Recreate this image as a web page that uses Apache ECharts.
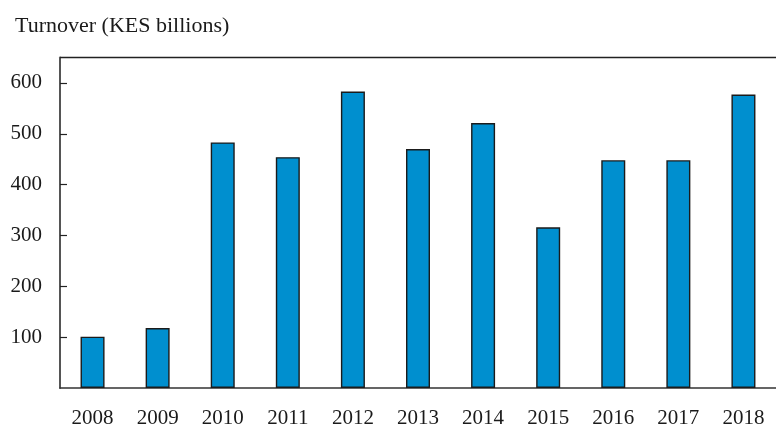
<!DOCTYPE html>
<html><head><meta charset="utf-8">
<script src="https://cdn.jsdelivr.net/npm/echarts@6/dist/echarts.min.js"></script>
<style>html,body{margin:0;padding:0;background:#fff}#c{width:776px;height:429px}</style>
</head><body><div id="c"></div>
<script>
const categories = ['2008','2009','2010','2011','2012','2013','2014','2015','2016','2017','2018'];
const turnover = [101, 118, 483, 454, 583, 470, 521, 316, 448, 448, 577];
const yTicks = [100, 200, 300, 400, 500, 600];
const title = 'Turnover (KES billions)';

const FONT = '"Liberation Serif", "DejaVu Serif", serif';
const chart = echarts.init(document.getElementById('c'), null, {renderer: 'canvas'});
chart.setOption({
  animation: false,
  backgroundColor: '#ffffff',
  title: {
    text: title, left: 10, top: 10,
    textStyle: {fontFamily: FONT, fontSize: 22, fontWeight: 'normal', color: '#1a1a1a'}
  },
  grid: {left: 60, top: 57.5, width: 728, height: 334, containLabel: false},
  xAxis: {
    type: 'category', data: categories,
    axisLine: {show: true, lineStyle: {color: '#333', width: 1.5}},
    axisTick: {show: false},
    axisLabel: {fontFamily: FONT, fontSize: 21, color: '#1a1a1a', margin: 20}
  },
  yAxis: [{
    type: 'value', min: 0, max: 650, interval: 100,
    axisLine: {show: true, lineStyle: {color: '#555', width: 2}},
    axisTick: {show: true, inside: true, length: 7, lineStyle: {color: '#222', width: 1.2},
      customValues: yTicks},
    axisLabel: {fontFamily: FONT, fontSize: 21, color: '#1a1a1a', margin: 18,
      customValues: yTicks},
    splitLine: {show: false}
  }],
  series: [{
    type: 'bar', data: turnover, barWidth: 24,
    itemStyle: {color: '#008fcf', borderColor: '#1b1b1b', borderWidth: 1.4}
  }],
  graphic: [{
    type: 'line', shape: {x1: 60, y1: 57.5, x2: 776, y2: 57.5},
    style: {stroke: '#222', lineWidth: 1.5}, z: 10
  }]
});
</script></body></html>
